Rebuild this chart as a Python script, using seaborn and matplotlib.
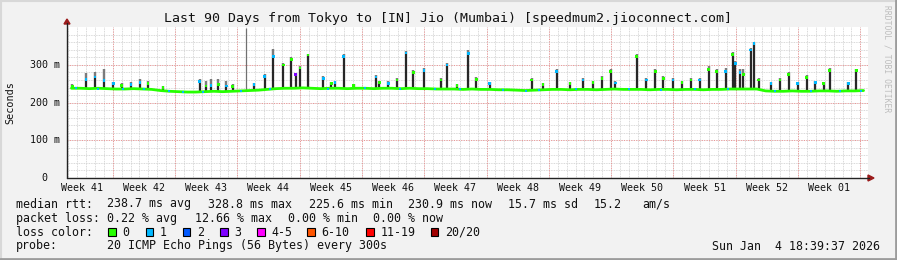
import numpy as np
import pandas as pd
import matplotlib
matplotlib.use("Agg")
import matplotlib.pyplot as plt
import seaborn as sns
from matplotlib.lines import Line2D
from matplotlib.patches import Rectangle, Polygon

sns.set_theme(style="white")
plt.rcParams["font.family"] = ["DejaVu Sans Mono", "DejaVu Sans"]

# ---------------- data ----------------
title = "Last 90 Days from Tokyo to [IN] Jio (Mumbai) [speedmum2.jioconnect.com]"
week_labels = ["Week 41", "Week 42", "Week 43", "Week 44", "Week 45", "Week 46", "Week 47",
               "Week 48", "Week 49", "Week 50", "Week 51", "Week 52", "Week 01"]
y_ticks = [0, 100, 200, 300]
y_tick_labels = ["0", "100 m", "200 m", "300 m"]

# daily median baseline (ms), day 0..89
base_ms = [238, 238, 237, 238, 237, 236, 236, 237, 236, 235,
           232, 230, 229, 228, 228, 229, 230, 229, 230, 231,
           232, 233, 235, 237, 238, 238, 239, 238, 237, 238,
           238, 237, 238, 238, 237, 238, 238, 237, 238, 237,
           237, 236, 236, 236, 235, 236, 235, 235, 234, 234,
           233, 232, 233, 234, 235, 235, 234, 235, 235, 234,
           235, 236, 235, 235, 235, 234, 235, 235, 234, 235,
           235, 234, 235, 235, 236, 236, 236, 236, 231, 230,
           230, 231, 230, 230, 231, 231, 230, 231, 231, 232]
base_day = [d + 0.5 for d in range(90)]

# latency spikes: position (days), median peak (ms), smoke top (ms), loss class
spike_day = [0.6, 2.13, 3.15, 4.15, 5.2, 6.15, 7.2, 8.2, 9.1, 10.8,
             14.9, 15.6, 16.2, 17.0, 17.9, 18.6, 21.0, 22.2, 23.2, 24.3,
             25.2, 25.7, 26.2, 27.1, 28.8, 29.7, 30.1, 31.1, 32.2, 34.7,
             35.1, 36.1, 37.1, 38.1, 38.9, 40.1, 42.0, 42.7, 43.8, 45.1,
             46.0, 47.5, 52.2, 53.5, 55.0, 56.5, 58.0, 59.1, 60.1, 61.1,
             61.6, 64.0, 65.1, 66.1, 67.0, 68.1, 69.1, 70.1, 71.1, 72.1,
             73.0, 74.0, 74.8, 75.1, 75.6, 76.0, 76.8, 77.2, 77.7, 79.1,
             80.1, 81.1, 82.1, 83.1, 84.1, 85.0, 85.7, 87.8, 88.7]
spike_med = [244, 262, 268, 258, 250, 246, 248, 254, 250, 240,
             256, 244, 246, 248, 244, 242, 248, 270, 322, 300,
             315, 275, 292, 326, 264, 251, 254, 323, 245, 268,
             253, 250, 260, 332, 280, 285, 260, 300, 245, 331,
             262, 250, 260, 248, 283, 250, 260, 253, 264, 283,
             252, 322, 260, 283, 264, 260, 253, 260, 260, 288,
             283, 283, 327, 304, 280, 275, 340, 357, 260, 250,
             260, 275, 250, 266, 253, 250, 285, 250, 285]
spike_top = [250, 279, 282, 290, 255, 252, 255, 262, 258, 244,
             262, 258, 262, 262, 258, 250, 252, 276, 341, 306,
             320, 278, 296, 328, 270, 255, 258, 330, 250, 272,
             258, 256, 264, 336, 286, 292, 266, 304, 250, 340,
             268, 254, 264, 252, 290, 255, 266, 258, 270, 290,
             256, 330, 265, 288, 270, 266, 258, 265, 266, 296,
             290, 292, 335, 310, 290, 290, 345, 362, 266, 255,
             266, 282, 255, 272, 258, 255, 292, 254, 290]
spike_loss = [0, 1, 1, 1, 1, 0, 1, 1, 0, 0,
              1, 0, 1, 0, 1, 0, 1, 1, 1, 0,
              0, 3, 0, 0, 1, 0, 1, 1, 0, 1,
              0, 1, 0, 1, 0, 1, 0, 1, 0, 1,
              0, 1, 0, 0, 1, 0, 1, 0, 0, 0,
              1, 0, 1, 0, 0, 1, 0, 0, 1, 0,
              0, 1, 0, 1, 1, 0, 1, 1, 0, 1,
              0, 0, 1, 0, 1, 0, 0, 1, 0]

# single outlier trace
outlier_day = [20.1]
outlier_top = [398]

# baseline points with 1/20 loss
blue_day = [1.0, 3.5, 6.3, 8.6, 11.5, 13.0, 15.3, 19.5, 22.8, 29.3, 33.5, 37.4, 41.3,
            44.2, 49.0, 51.6, 53.0, 57.2, 63.1, 66.7, 70.6, 74.3, 79.6, 83.6, 86.8, 89.2]
blue_ms = [238, 237, 236, 236, 230, 228, 229, 231, 235, 237, 238, 237, 236,
           235, 234, 232, 233, 235, 235, 234, 235, 235, 230, 230, 230, 231]

# legend / stats
loss_names = ["0", "1", "2", "3", "4-5", "6-10", "11-19", "20/20"]
loss_colors = ["#26ff00", "#00b8ff", "#0059ff", "#7e00ff", "#ff00ff", "#ff5500", "#ff0000", "#a10000"]

# ---------------- figure ----------------
W, H = 897, 260
BG = "#f2f2f2"
fig = plt.figure(figsize=(W / 100, H / 100), dpi=100, facecolor=BG)
L, R, T, B = 67, 868, 27, 178
ax = fig.add_axes([L / W, 1 - B / H, (R - L) / W, (B - T) / H])
ax.set_facecolor("white")


def fx(x):
    return x / W


def fy(y):
    return 1 - y / H


# smoke / spikes
sb = [base_ms[int(d)] for d in spike_day]
ax.vlines(spike_day, sb, spike_top, color="#b4b4b4", lw=2.6, alpha=0.45, zorder=1)
ax.vlines(spike_day, spike_med, spike_top, color="#6a6a6a", lw=1.2, zorder=2)
ax.vlines(spike_day, sb, spike_med, color="#151515", lw=1.3, zorder=2)
ob = [base_ms[int(d)] for d in outlier_day]
ax.vlines(outlier_day, ob, outlier_top, color="#707070", lw=0.9, zorder=2)

# median line
sns.lineplot(x=base_day, y=base_ms, color="#26ff00", lw=2.0, ax=ax, zorder=3,
             legend=False)

sdf = pd.DataFrame({"day": spike_day, "med": spike_med,
                    "loss": [loss_names[i] for i in spike_loss]})
sns.scatterplot(data=sdf, x="day", y="med", hue="loss",
                palette={loss_names[i]: loss_colors[i] for i in range(8)},
                marker="s", s=3.5, linewidth=0, ax=ax, zorder=4, legend=False)
sns.scatterplot(x=blue_day, y=blue_ms, color="#00b8ff", marker="s", s=3.5,
                linewidth=0, ax=ax, zorder=4, legend=False)

ax.set_xlim(0, 90)
ax.set_ylim(0, 400.5)
ax.set_xlabel("")
ax.set_ylabel("")
ax.set_xticks([])
ax.set_yticks([])
for s in ax.spines.values():
    s.set_visible(False)

# grid
first_major = 5.14
for d in np.arange(first_major % 1, 90, 1.0):
    ax.axvline(d, color="#cccccc", lw=0.6, ls=(0, (1, 1)), zorder=0)
for v in range(20, 400, 20):
    ax.axhline(v, color="#cccccc", lw=0.6, ls=(0, (1, 1)), zorder=0)
for d in np.arange(first_major, 90, 7.0):
    ax.axvline(d, color="#f09090", lw=0.7, ls=(0, (1, 1.5)), zorder=0.5)
for v in range(100, 400, 100):
    ax.axhline(v, color="#f09090", lw=0.7, ls=(0, (1, 1.5)), zorder=0.5)

# axes lines with arrows
fig.add_artist(Line2D([fx(L), fx(L)], [fy(B), fy(23)], color="#222222", lw=1.0))
fig.add_artist(Line2D([fx(L), fx(869)], [fy(B), fy(B)], color="#222222", lw=1.0))
fig.add_artist(Polygon([(fx(64), fy(24)), (fx(70), fy(24)), (fx(67), fy(19))],
                       closed=True, color="#9b1b1b"))
fig.add_artist(Polygon([(fx(868), fy(175)), (fx(868), fy(181)), (fx(874), fy(178))],
                       closed=True, color="#9b1b1b"))

# tick labels
xt = ax.get_xaxis_transform()
for i, lab in enumerate(week_labels):
    ax.text(first_major - 3.5 + 7 * i, -(187.7 - B) / (B - T), lab, transform=xt,
            ha="center", va="center", fontsize=7.2, color="#111111")
yt = ax.get_yaxis_transform()
for v, lab in zip(y_ticks, y_tick_labels):
    xr = 59.5 if lab != "0" else 47
    ax.text(-(L - xr) / (R - L), v, lab, transform=yt, ha="right", va="center",
            fontsize=7.2, color="#111111")

fig.text(fx(10), fy(102.5), "Seconds", rotation=90, ha="center", va="center",
         fontsize=7.3, color="#111111")
fig.text(fx(448), fy(18.5), title, ha="center", va="center", fontsize=9.55, color="#111111")
fig.text(fx(887), fy(59), "RRDTOOL / TOBI OETIKER", rotation=-90, ha="center",
         va="center", fontsize=5.8, color="#bdbdbd")

# legend / stats lines
FS = 8.4


def put(x, y, s):
    fig.text(fx(x), fy(y), s, ha="left", va="center", fontsize=FS, color="#111111")


y1, y2, y3, y4 = 204, 218.3, 232, 246
put(16, y1, "median rtt:")
put(107.3, y1, "238.7 ms avg")
put(208, y1, "328.8 ms max")
put(308.5, y1, "225.6 ms min")
put(408, y1, "230.9 ms now")
put(508, y1, "15.7 ms sd")
put(593.3, y1, "15.2")
put(642, y1, "am/s")

put(16, y2, "packet loss:")
put(107.3, y2, "0.22 % avg")
put(195, y2, "12.66 % max")
put(288, y2, "0.00 % min")
put(372.7, y2, "0.00 % now")

put(16, y3, "loss color:")
box_x = [108.3, 145.7, 182.7, 220, 257.3, 307.3, 366.3, 430.5]
for bx, c, n in zip(box_x, loss_colors, loss_names):
    fig.add_artist(Rectangle((fx(bx), fy(y3 + 3.8)), 7.5 / W, 7.5 / H,
                             facecolor=c, edgecolor="black", lw=0.8))
    put(bx + 14.3, y3, n)

put(16, y4, "probe:")
put(107.3, y4, "20 ICMP Echo Pings (56 Bytes) every 300s")
fig.text(fx(880), fy(y4), "Sun Jan  4 18:39:37 2026", ha="right", va="center",
         fontsize=FS, color="#111111")

# 3D-ish frame
fig.add_artist(Line2D([0, 1], [fy(0.5), fy(0.5)], color="#d8d8d8", lw=1.5))
fig.add_artist(Line2D([fx(0.5), fx(0.5)], [0, 1], color="#d8d8d8", lw=1.5))
fig.add_artist(Line2D([0, 1], [fy(258.8), fy(258.8)], color="#9c9c9c", lw=2))
fig.add_artist(Line2D([fx(895.8), fx(895.8)], [0, 1], color="#9c9c9c", lw=2))

fig.savefig("out.png", dpi=100, facecolor=BG)
